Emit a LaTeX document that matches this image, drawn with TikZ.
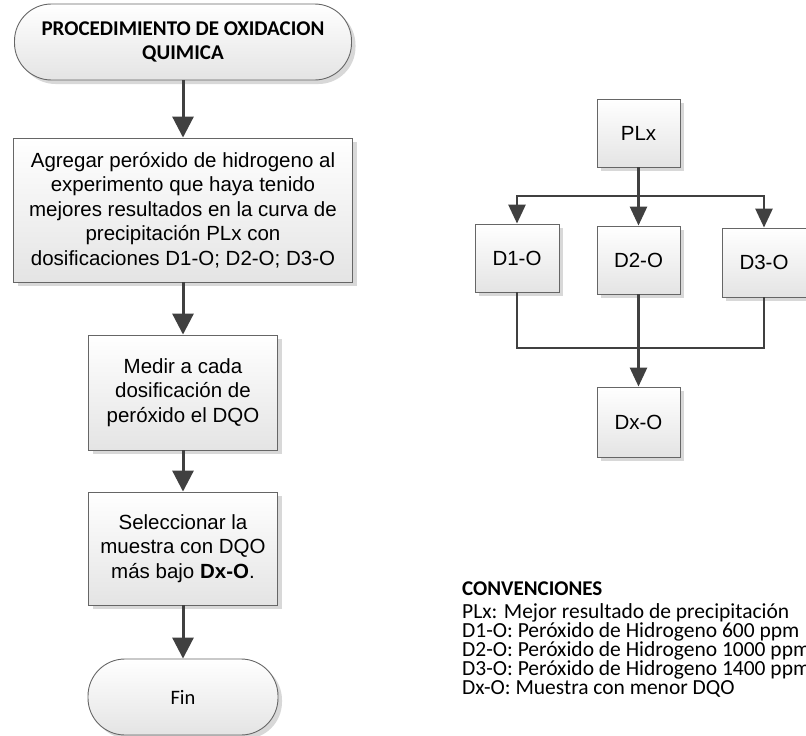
\documentclass[tikz,border=0pt]{standalone}
\usepackage{fontspec}
\setmainfont{Liberation Sans}
\newfontfamily\calibrifont{Carlito}
\usetikzlibrary{arrows.meta,shadows}
\definecolor{flowline}{HTML}{404040}
\definecolor{boxedge}{HTML}{666666}
\definecolor{boxlow}{HTML}{E4E4E4}
\definecolor{shadowgray}{HTML}{D8D8D8}
\begin{document}
\begin{tikzpicture}[x=1pt,y=-1pt,
  base/.style={draw=boxedge, line width=0.9pt, top color=white, bottom color=boxlow,
    drop shadow={shadow xshift=4pt, shadow yshift=-4pt, fill=shadowgray, opacity=1},
    inner sep=0pt, align=center, text=black},
  procbox/.style={base, rectangle},
  termbox/.style={base, rectangle, rounded corners=37pt},
  armtext/.style={font=\fontsize{20.5}{24.5}\selectfont},
  termtext/.style={font=\calibrifont\fontsize{20.5}{24}\selectfont},
  flow/.style={draw=flowline, line width=3pt, -{Triangle[width=21pt,length=21pt]}},
  branch/.style={draw=flowline, line width=2.8pt, -{Triangle[width=17pt,length=19pt]}},
  stem/.style={draw=flowline, line width=2.8pt},
  joinline/.style={draw=flowline, line width=1.9pt},
  legend/.style={anchor=base west, inner sep=0pt, font=\calibrifont\fontsize{21.5}{24}\selectfont}
]
\useasboundingbox (0,0) rectangle (806,736);
\clip (0,0) rectangle (806,736);

% main procedure column
\node[termbox, minimum width=337pt, minimum height=76pt,
      font=\calibrifont\bfseries\fontsize{21}{23.5}\selectfont] (start) at (183,42)
  {PROCEDIMIENTO DE OXIDACION\\QUIMICA};
\node[procbox, minimum width=339pt, minimum height=144pt, armtext] (add) at (183,210)
  {Agregar peróxido de hidrogeno al\\experimento que haya tenido\\mejores resultados en la curva de\\precipitación PLx con\\dosificaciones D1-O; D2-O; D3-O};
\node[procbox, minimum width=189pt, minimum height=115pt, armtext] (measure) at (183,392.5)
  {Medir a cada\\dosificación de\\peróxido el DQO};
\node[procbox, minimum width=189pt, minimum height=113pt, armtext] (select) at (183,548.5)
  {Seleccionar la\\muestra con DQO\\más bajo \textbf{Dx-O}.};
\node[termbox, minimum width=190pt, minimum height=76pt, termtext] (fin) at (183,697) {Fin};

\draw[flow] (start) -- (add);
\draw[flow] (add) -- (measure);
\draw[flow] (measure) -- (select);
\draw[flow] (select) -- (fin);

% dosage tree
\node[procbox, minimum width=83pt, minimum height=68pt, armtext] (plx) at (638.5,133) {PLx};
\node[procbox, minimum width=84pt, minimum height=68pt, armtext] (d1) at (517,258) {D1-O};
\node[procbox, minimum width=83pt, minimum height=68pt, armtext] (d2) at (638.5,260) {D2-O};
\node[procbox, minimum width=84pt, minimum height=69pt, armtext] (d3) at (764,262.5) {D3-O};
\node[procbox, minimum width=83pt, minimum height=70pt, armtext] (dx) at (638.5,422) {Dx-O};

\coordinate (split) at (638.5,196);
\coordinate (merge) at (638.5,348);

\draw[stem] (plx) -- (split);
\draw[branch] (split) -| (d1);
\draw[branch] (split) -- (d2);
\draw[branch] (split) -| (d3);
\draw[joinline] (d1) |- (merge);
\draw[joinline] (d3) |- (merge);
\draw[branch] (d2) -- (dx);

% legend
\node[legend, font=\calibrifont\bfseries\fontsize{21}{24}\selectfont] (legtitle) at (462,595) {CONVENCIONES};
\node[legend] (legplx) at (462,618.5) {PLx: Mejor resultado de precipitación};
\node[legend] (legdone) at (462,637.5) {D1-O: Peróxido de Hidrogeno 600 ppm};
\node[legend] (legdtwo) at (462,656.5) {D2-O: Peróxido de Hidrogeno 1000 ppm};
\node[legend] (legdthree) at (462,675.5) {D3-O: Peróxido de Hidrogeno 1400 ppm};
\node[legend] (legdx) at (462,694.5) {Dx-O: Muestra con menor DQO};
\end{tikzpicture}
\end{document}
